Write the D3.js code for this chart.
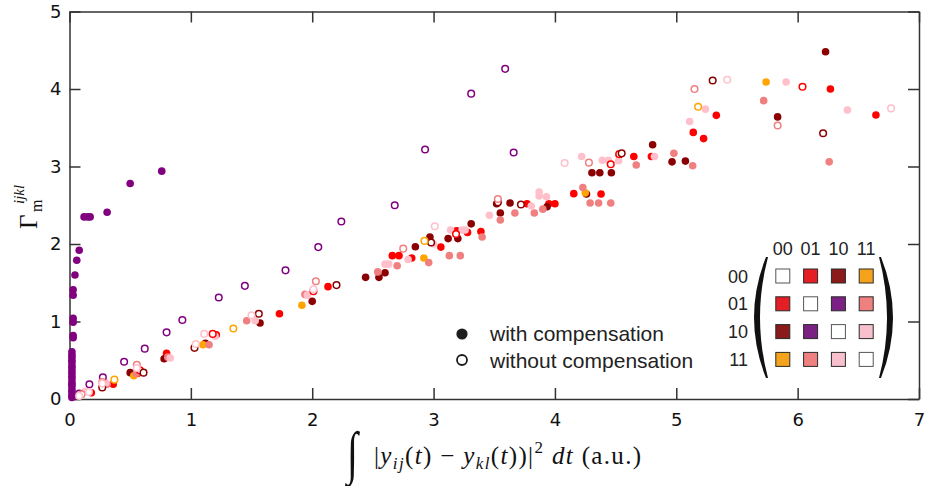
<!DOCTYPE html>
<html>
<head>
<meta charset="utf-8">
<script src="https://cdn.jsdelivr.net/npm/d3@7/dist/d3.min.js"></script>
<style>
  html, body { margin: 0; padding: 0; background: #fff; }
  svg { display: block; }
</style>
</head>
<body>
<svg id="chart" width="927" height="486"></svg>
<script>
// Qubit-state pairs (ij-kl) and their colours
const pairKeys = ["00-01", "00-10", "00-11", "01-10", "01-11", "10-11"];
const pointColors = ["#ff0000", "#8b0000", "#ffa500", "#800080", "#f08080", "#ffc0cb"];
const legendColors = ["#e31e24", "#8b1a1a", "#f5a31c", "#7b2183", "#ef8080", "#f8c0cc"];
const stateLabels = ["00", "01", "10", "11"];

// Axis ticks
const xTicks = [0, 1, 2, 3, 4, 5, 6, 7];
const yTicks = [0, 1, 2, 3, 4, 5];

// [integrated squared distance, Gamma_m] — with compensation (filled markers)
const with_00_01 = [[0.18,0.08],[0.36,0.19],[0.56,0.33],[0.80,0.59],[1.21,0.83],[1.73,1.10],[2.13,1.45],[2.66,1.85],[2.715,1.85],[2.82,1.82],[3.06,1.96],[3.19,2.17],[3.28,2.15],[3.39,2.16],[3.77,2.52],[3.95,2.52],[4.00,2.52],[4.155,2.65],[4.38,2.645],[4.53,3.15],[4.65,3.13],[4.795,3.13],[5.14,3.44],[5.225,3.36],[5.33,3.66],[6.27,4.00],[6.645,3.665]];
const with_00_10 = [[0.50,0.34],[0.78,0.52],[1.12,0.72],[1.57,0.98],[2.00,1.26],[2.44,1.57],[2.55,1.57],[2.60,1.63],[2.85,1.965],[2.97,2.09],[3.12,2.07],[3.20,2.07],[3.31,2.26],[3.52,2.52],[3.55,2.40],[3.63,2.53],[3.935,2.48],[4.26,2.645],[4.305,2.92],[4.37,2.92],[4.465,2.92],[4.805,3.28],[4.965,3.06],[5.075,3.07],[5.835,3.64],[6.23,4.48]];
const with_00_11 = [[0.53,0.30],[1.10,0.70],[1.915,1.21],[2.92,1.82],[4.25,2.66],[5.74,4.09]];
const with_01_10 = [[0.02,0.02],[0.02,0.05],[0.02,0.09],[0.02,0.12],[0.02,0.16],[0.02,0.19],[0.02,0.22],[0.02,0.26],[0.02,0.29],[0.02,0.33],[0.02,0.36],[0.02,0.40],[0.02,0.43],[0.02,0.47],[0.02,0.50],[0.02,0.54],[0.02,0.57],[0.02,0.61],[0.03,0.79],[0.03,0.82],[0.03,0.99],[0.03,1.04],[0.03,1.34],[0.03,1.41],[0.045,1.60],[0.06,1.79],[0.08,1.92],[0.12,2.35],[0.15,2.35],[0.17,2.35],[0.31,2.41],[0.50,2.78],[0.76,2.94]];
const with_01_11 = [[0.31,0.19],[0.55,0.33],[0.81,0.54],[1.15,0.70],[1.46,1.01],[1.94,1.35],[2.54,1.64],[2.70,1.72],[2.96,1.76],[3.13,1.85],[3.22,1.85],[3.40,2.09],[3.55,2.31],[3.67,2.40],[3.83,2.40],[3.90,2.45],[4.23,2.73],[4.29,2.53],[4.36,2.53],[4.46,2.53],[4.67,3.02],[4.98,3.17],[5.135,3.01],[5.72,3.85],[6.26,3.06]];
const with_10_11 = [[0.13,0.10],[0.30,0.21],[0.83,0.53],[1.20,0.81],[1.53,1.01],[1.96,1.34],[2.60,1.74],[2.63,1.74],[2.79,1.80],[3.00,2.00],[3.14,2.18],[3.235,2.18],[3.26,2.18],[3.46,2.37],[3.805,2.49],[3.87,2.67],[3.87,2.62],[3.93,2.61],[4.22,3.13],[4.39,3.08],[4.44,3.08],[4.525,3.075],[4.82,3.13],[5.11,3.58],[5.24,3.74],[5.905,4.09],[6.41,3.73]];

// without compensation (open markers)
const without_00_01 = [[0.58,0.37],[1.18,0.84],[2.01,1.39],[3.185,2.13],[4.46,3.03],[4.53,3.16],[6.04,4.03]];
const without_00_10 = [[0.27,0.15],[0.61,0.34],[1.03,0.66],[1.56,1.10],[2.20,1.47],[2.98,2.02],[3.53,2.54],[3.72,2.51],[4.55,3.17],[5.30,4.11],[6.21,3.43]];
const without_00_11 = [[0.37,0.25],[1.35,0.91],[2.925,2.04],[5.18,3.77]];
const without_01_10 = [[0.08,0.07],[0.164,0.19],[0.275,0.28],[0.45,0.48],[0.62,0.65],[0.80,0.86],[0.93,1.02],[1.23,1.31],[1.445,1.46],[1.78,1.66],[2.05,1.96],[2.24,2.29],[2.68,2.50],[2.93,3.22],[3.31,3.94],[3.59,4.26],[3.66,3.18]];
const without_01_11 = [[0.10,0.06],[0.27,0.22],[0.555,0.44],[2.03,1.52],[2.75,1.94],[3.53,2.58],[4.28,3.05],[5.15,4.00],[5.835,3.53]];
const without_10_11 = [[0.08,0.04],[0.16,0.09],[0.27,0.20],[0.555,0.40],[1.04,0.71],[1.11,0.84],[1.50,1.08],[2.01,1.415],[3.01,2.23],[4.08,3.045],[5.42,4.12],[6.77,3.75]];

const withSeries = [with_00_01, with_00_10, with_00_11, with_01_10, with_01_11, with_10_11];
const withoutSeries = [without_00_01, without_00_10, without_00_11, without_01_10, without_01_11, without_10_11];

const svg = d3.select("#chart");
svg.append("rect").attr("width", 927).attr("height", 486).attr("fill", "#fff");

const x = d3.scaleLinear().domain([0, 7]).range([69.5, 919]);
const y = d3.scaleLinear().domain([0, 5]).range([399, 11.5]);

const axisColor = "#333";
const tickFont = "'DejaVu Sans', sans-serif";

function styleAxis(g) {
  g.selectAll("path.domain").attr("stroke", axisColor).attr("stroke-width", 1.5);
  g.selectAll(".tick line").attr("stroke", axisColor).attr("stroke-width", 1.5);
  g.selectAll(".tick text").attr("fill", "#111").attr("font-family", tickFont).attr("font-size", 18);
}

// frame with inward ticks on all four sides
svg.append("g").attr("transform", `translate(0,${y(0)})`)
  .call(d3.axisBottom(x).tickValues(xTicks).tickFormat(d3.format("d")).tickSize(-11).tickSizeOuter(0).tickPadding(14))
  .call(styleAxis);
svg.append("g").attr("transform", `translate(0,${y(5)})`)
  .call(d3.axisTop(x).tickValues(xTicks).tickFormat("").tickSize(-11).tickSizeOuter(0))
  .call(styleAxis);
svg.append("g").attr("transform", `translate(${x(0)},0)`)
  .call(d3.axisLeft(y).tickValues(yTicks).tickFormat(d3.format("d")).tickSize(-11).tickSizeOuter(0).tickPadding(8))
  .call(styleAxis);
svg.append("g").attr("transform", `translate(${x(7)},0)`)
  .call(d3.axisRight(y).tickValues(yTicks).tickFormat("").tickSize(-11).tickSizeOuter(0))
  .call(styleAxis);

// markers
const marks = svg.append("g");
withSeries.forEach((data, i) => {
  marks.append("g").selectAll("circle").data(data).join("circle")
    .attr("cx", d => x(d[0])).attr("cy", d => y(d[1])).attr("r", 3.8)
    .attr("fill", pointColors[i]);
});
withoutSeries.forEach((data, i) => {
  marks.append("g").selectAll("circle").data(data).join("circle")
    .attr("cx", d => x(d[0])).attr("cy", d => y(d[1])).attr("r", 3.3)
    .attr("fill", "#fff").attr("stroke", pointColors[i]).attr("stroke-width", 1.5);
});

// marker-style legend
const legendFont = "'Liberation Sans', Arial, sans-serif";
const lg = svg.append("g");
lg.append("circle").attr("cx", 462).attr("cy", 334).attr("r", 5.6).attr("fill", "#1e1e1e");
lg.append("circle").attr("cx", 462).attr("cy", 360).attr("r", 5).attr("fill", "#fff").attr("stroke", "#1e1e1e").attr("stroke-width", 1.8);
lg.append("text").attr("x", 490).attr("y", 341).text("with compensation")
  .attr("font-family", legendFont).attr("font-size", 21).attr("fill", "#222");
lg.append("text").attr("x", 490).attr("y", 368).text("without compensation")
  .attr("font-family", legendFont).attr("font-size", 21).attr("fill", "#222");

// colour-matrix legend
const mx = d3.scaleBand().domain(stateLabels).range([768.9, 880.1]).paddingInner(0).paddingOuter(0);
const my = d3.scaleBand().domain(stateLabels).range([262.1, 373.3]);
const mg = svg.append("g");
const cells = [];
stateLabels.forEach(r => stateLabels.forEach(c => {
  const k = pairKeys.indexOf(r < c ? `${r}-${c}` : `${c}-${r}`);
  cells.push({ r, c, color: r === c ? "#fff" : legendColors[k] });
}));
const sq = 14;
mg.selectAll("rect").data(cells).join("rect")
  .attr("x", d => mx(d.c) + mx.bandwidth() / 2 - sq / 2)
  .attr("y", d => my(d.r) + my.bandwidth() / 2 - sq / 2)
  .attr("width", sq).attr("height", sq)
  .attr("fill", d => d.color)
  .attr("stroke", d => d.r === d.c ? "#555" : "#2a2a2a").attr("stroke-width", 1);
mg.selectAll("text.col").data(stateLabels).join("text").attr("class", "col")
  .attr("x", d => mx(d) + mx.bandwidth() / 2).attr("y", 255)
  .attr("text-anchor", "middle").text(d => d)
  .attr("font-family", legendFont).attr("font-size", 18).attr("fill", "#222");
mg.selectAll("text.row").data(stateLabels).join("text").attr("class", "row")
  .attr("x", 748).attr("y", d => my(d) + my.bandwidth() / 2 + 6.5)
  .attr("text-anchor", "end").text(d => d)
  .attr("font-family", legendFont).attr("font-size", 18).attr("fill", "#222");
// matrix brackets
mg.append("path").attr("d", "M766,257 Q742,317.5 766,378 L768,378 Q752,317.5 768,257 Z").attr("fill", "#111");
mg.append("path").attr("d", "M881,257 Q905,317.5 881,378 L879,378 Q895,317.5 879,257 Z").attr("fill", "#111");

// axis titles
const serif = "'Liberation Serif', 'DejaVu Serif', serif";
const yl = svg.append("g").attr("transform", "translate(37,229) rotate(-90)")
  .attr("font-family", serif).attr("fill", "#111");
yl.append("text").attr("x", 0).attr("y", 0).attr("font-size", 25).text("Γ");
yl.append("text").attr("x", 17).attr("y", 5).attr("font-size", 16).text("m");
yl.append("text").attr("x", 25).attr("y", -13).attr("font-size", 15).attr("font-style", "italic").text("ijkl");

const xlg = svg.append("g").attr("font-family", serif).attr("fill", "#111");
xlg.append("text").attr("transform", "translate(347,472) scale(1,1.45)")
  .attr("font-size", 40).attr("font-style", "italic").text("∫");
const xt = xlg.append("text").attr("x", 374).attr("y", 464).attr("font-size", 25).attr("letter-spacing", 1.35);
const parts = [
  ["|", {}], ["y", { it: 1 }], ["ij", { it: 1, fs: 17, dy: 5 }], ["(", { dy: -5 }], ["t", { it: 1 }], [")", {}],
  [" − ", {}], ["y", { it: 1 }], ["kl", { it: 1, fs: 17, dy: 5 }], ["(", { dy: -5 }], ["t", { it: 1 }], ["))|", {}],
  ["2", { fs: 17, dy: -11 }], [" ", { dy: 11 }], ["dt", { it: 1 }], [" (a.u.)", {}]
];
parts.forEach(([s, o]) => {
  const t = xt.append("tspan").text(s);
  if (o.it) t.attr("font-style", "italic");
  if (o.fs) t.attr("font-size", o.fs);
  if (o.dy) t.attr("dy", o.dy);
});
</script>
</body>
</html>
